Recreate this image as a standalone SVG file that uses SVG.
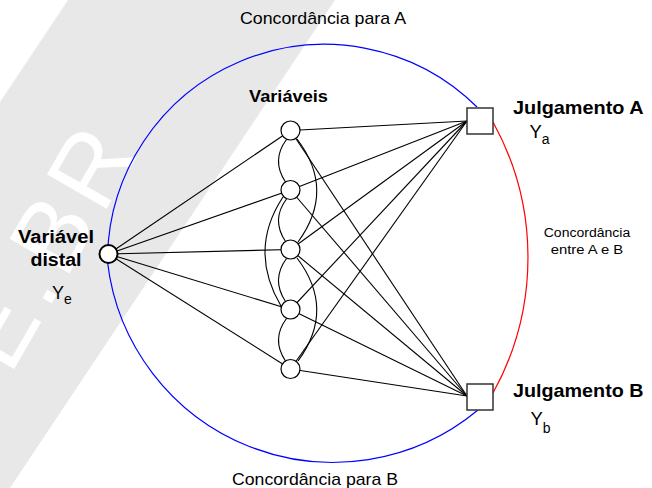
<svg xmlns="http://www.w3.org/2000/svg" width="652" height="488" viewBox="0 0 652 488">
<defs>
<style>
.lbl{font-family:"Liberation Sans",Arial,sans-serif;fill:#000}
.b{font-weight:bold}
.edge{stroke:#000;stroke-width:1.1;fill:none}
.var{fill:#fff;stroke:#000;stroke-width:1.2}
.judge{fill:#fff;stroke:#333;stroke-width:1.5}
</style>
</defs>
<rect width="652" height="488" fill="#fff"/>
<g id="watermark">
<polygon points="68,0 335,0 10,488 0,488 0,102" fill="#e8e8e8"/>
<text transform="translate(10,376) rotate(-60)" font-family="Liberation Sans, Arial, sans-serif" font-size="100" letter-spacing="8" fill="#fff">E.BR</text>
</g>
<g id="agreement-arcs" fill="none" stroke-width="1.2">
<path d="M477,107 A217,217 0 0,0 107.5,262 A227,227 0 0,0 478,410" stroke="#0000ff"/>
<path d="M493,122 A280,280 0 0,1 493,393" stroke="#ff0000"/>
</g>
<g id="connectors" class="edge">
<line x1="108.5" y1="254" x2="290.5" y2="130.5"/>
<line x1="108.5" y1="254" x2="290.5" y2="190"/>
<line x1="108.5" y1="254" x2="290.5" y2="249.5"/>
<line x1="108.5" y1="254" x2="290.5" y2="309.5"/>
<line x1="108.5" y1="254" x2="290.5" y2="369"/>
<line x1="290.5" y1="130.5" x2="467" y2="121"/>
<line x1="290.5" y1="190" x2="467" y2="121"/>
<line x1="290.5" y1="249.5" x2="467" y2="121"/>
<line x1="290.5" y1="309.5" x2="467" y2="121"/>
<line x1="290.5" y1="369" x2="467" y2="121"/>
<line x1="290.5" y1="130.5" x2="467" y2="396"/>
<line x1="290.5" y1="190" x2="467" y2="396"/>
<line x1="290.5" y1="249.5" x2="467" y2="396"/>
<line x1="290.5" y1="309.5" x2="467" y2="396"/>
<line x1="290.5" y1="369" x2="467" y2="396"/>
<path d="M286.5,139.5 Q271,160.25 285.5,182"/>
<path d="M286.5,199 Q271,219.75 285.5,241.5"/>
<path d="M286.5,258.5 Q271,279.5 285.5,301.5"/>
<path d="M286.5,318.5 Q271,339.25 285.5,361"/>
<path d="M297,139 Q336,190 298,242"/>
<path d="M297,258 Q336,309.25 298,361"/>
<path d="M283,197 Q248,250 281,306"/>
</g>
<g id="node-distal">
<circle cx="108.5" cy="254" r="9" fill="#fff" stroke="#000" stroke-width="2"/>
<text class="lbl b" x="56" y="243" font-size="18" text-anchor="middle" textLength="76" lengthAdjust="spacingAndGlyphs">Variável</text>
<text class="lbl b" x="56" y="266" font-size="18" text-anchor="middle" textLength="51" lengthAdjust="spacingAndGlyphs">distal</text>
<text class="lbl" x="52" y="299" font-size="18">Y<tspan font-size="14" dy="5">e</tspan></text>
</g>
<g id="node-variables">
<text class="lbl b" x="288.5" y="102" font-size="17" text-anchor="middle" textLength="79" lengthAdjust="spacingAndGlyphs">Variáveis</text>
<circle id="v1" class="var" cx="290.5" cy="130.5" r="9.5"/>
<circle id="v2" class="var" cx="290.5" cy="190" r="9.5"/>
<circle id="v3" class="var" cx="290.5" cy="249.5" r="9.5"/>
<circle id="v4" class="var" cx="290.5" cy="309.5" r="9.5"/>
<circle id="v5" class="var" cx="290.5" cy="369" r="9.5"/>
</g>
<g id="node-judge-a">
<rect class="judge" x="467" y="108" width="26" height="26"/>
<text class="lbl b" x="513" y="113.5" font-size="18.5" textLength="130.5" lengthAdjust="spacingAndGlyphs">Julgamento A</text>
<text class="lbl" x="529.5" y="138" font-size="18.5">Y<tspan font-size="14" dy="6">a</tspan></text>
</g>
<g id="node-judge-b">
<rect class="judge" x="467" y="384" width="26" height="26"/>
<text class="lbl b" x="513" y="397" font-size="18.5" textLength="130.5" lengthAdjust="spacingAndGlyphs">Julgamento B</text>
<text class="lbl" x="530.5" y="425" font-size="18.5">Y<tspan font-size="14" dy="7.5">b</tspan></text>
</g>
<g id="labels">
<text class="lbl" x="323" y="24" font-size="17" text-anchor="middle" textLength="166" lengthAdjust="spacingAndGlyphs">Concordância para A</text>
<text class="lbl" x="315" y="485" font-size="17" text-anchor="middle" textLength="166" lengthAdjust="spacingAndGlyphs">Concordância para B</text>
<text class="lbl" x="587" y="237" font-size="12.5" text-anchor="middle" textLength="86.5" lengthAdjust="spacingAndGlyphs">Concordância</text>
<text class="lbl" x="587" y="254" font-size="12.5" text-anchor="middle" textLength="72.5" lengthAdjust="spacingAndGlyphs">entre A e B</text>
</g>
</svg>
